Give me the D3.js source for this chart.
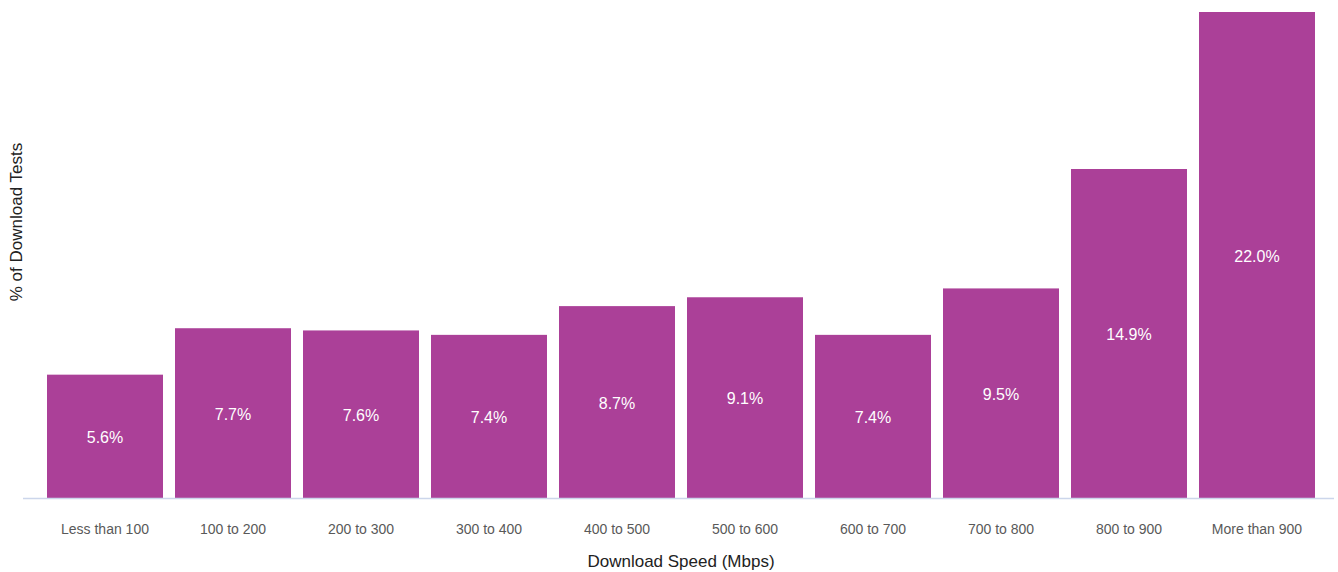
<!DOCTYPE html>
<html>
<head>
<meta charset="utf-8">
<script src="https://cdn.jsdelivr.net/npm/d3@7"></script>
<style>
  html, body { margin: 0; padding: 0; background: #fff; }
  svg { display: block; font-family: "Liberation Sans", Arial, Helvetica, sans-serif; }
</style>
</head>
<body>
<svg id="chart" width="1338" height="572"></svg>
<script>
// Share of download tests by speed bucket
const categories = ["Less than 100", "100 to 200", "200 to 300", "300 to 400", "400 to 500",
                    "500 to 600", "600 to 700", "700 to 800", "800 to 900", "More than 900"];
const shares = [5.6, 7.7, 7.6, 7.4, 8.7, 9.1, 7.4, 9.5, 14.9, 22.0];
const xTitle = "Download Speed (Mbps)";
const yTitle = "% of Download Tests";

const svg = d3.select("#chart");
const baseY = 498.5;

const x = d3.scaleBand()
  .domain(categories)
  .range([41, 1321])
  .paddingInner(0.09375)
  .paddingOuter(0.046875);

const y = d3.scaleLinear()
  .domain([0, 22])
  .range([baseY, 12]);

// bars
svg.append("g")
  .selectAll("rect")
  .data(shares)
  .join("rect")
  .attr("x", (d, i) => x(categories[i]))
  .attr("y", d => y(d))
  .attr("width", x.bandwidth())
  .attr("height", d => baseY - y(d))
  .attr("fill", "#ab4098");

// value labels centred in each bar
svg.append("g")
  .selectAll("text")
  .data(shares)
  .join("text")
  .attr("x", (d, i) => x(categories[i]) + x.bandwidth() / 2)
  .attr("y", d => (y(d) + baseY) / 2 + 1)
  .attr("text-anchor", "middle")
  .attr("dominant-baseline", "central")
  .attr("font-size", 16)
  .attr("fill", "#ffffff")
  .text(d => d.toFixed(1) + "%");

// x axis: baseline and category labels
const xAxis = d3.axisBottom(x).tickSize(0).tickPadding(0);
const gx = svg.append("g")
  .attr("transform", `translate(0,${baseY})`)
  .call(xAxis);
gx.select(".domain").remove();
gx.selectAll("text")
  .attr("y", 30)
  .attr("dy", "0")
  .attr("dominant-baseline", "central")
  .attr("font-size", 14)
  .attr("font-family", "Liberation Sans, Arial, sans-serif")
  .attr("fill", "#595959");

svg.append("line")
  .attr("x1", 23).attr("x2", 1334)
  .attr("y1", baseY).attr("y2", baseY)
  .attr("stroke", "#ccd6eb")
  .attr("stroke-width", 1.5);

// axis titles
svg.append("text")
  .attr("x", 681)
  .attr("y", 561)
  .attr("text-anchor", "middle")
  .attr("dominant-baseline", "central")
  .attr("font-size", 17)
  .attr("fill", "#222")
  .text(xTitle);

svg.append("text")
  .attr("transform", "translate(16,222) rotate(-90)")
  .attr("text-anchor", "middle")
  .attr("dominant-baseline", "central")
  .attr("font-size", 17)
  .attr("fill", "#222")
  .text(yTitle);
</script>
</body>
</html>
